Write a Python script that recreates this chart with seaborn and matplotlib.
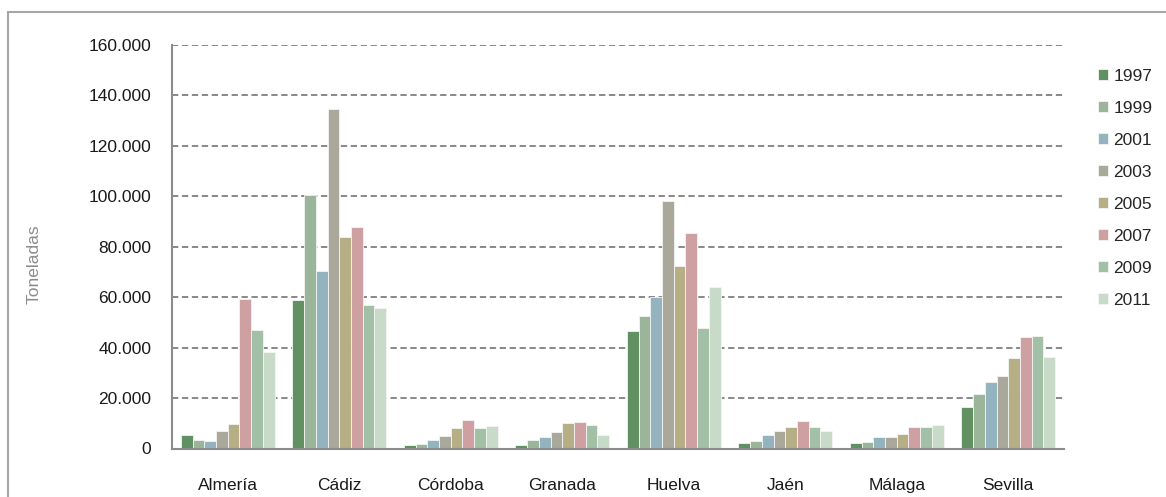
import matplotlib
matplotlib.use("Agg")
import matplotlib.pyplot as plt
import seaborn as sns
import pandas as pd
from matplotlib.patches import Rectangle
from matplotlib.ticker import FuncFormatter

provincias = ["Almería", "Cádiz", "Córdoba", "Granada", "Huelva", "Jaén", "Málaga", "Sevilla"]
anios = ["1997", "1999", "2001", "2003", "2005", "2007", "2009", "2011"]

v1997 = [5200, 58700, 1200, 1500, 46500, 2100, 2100, 16300]
v1999 = [3200, 100500, 1700, 3500, 52700, 3100, 2500, 21500]
v2001 = [2800, 70400, 3200, 4600, 59900, 5300, 4600, 26200]
v2003 = [6900, 134800, 4900, 6400, 98300, 6800, 4600, 28700]
v2005 = [9600, 83800, 8000, 10200, 72200, 8500, 5700, 35700]
v2007 = [59100, 87800, 11300, 10500, 85400, 10900, 8600, 44300]
v2009 = [47100, 57100, 8200, 9200, 47800, 8400, 8600, 44800]
v2011 = [38200, 55900, 8800, 5400, 64100, 6900, 9300, 36400]

colores = ["#619063", "#9bb59b", "#93b4bf", "#a9a89a", "#b6ae84", "#cfa0a1", "#a2c0a6", "#c8dbc9"]

series = [v1997, v1999, v2001, v2003, v2005, v2007, v2009, v2011]
rows = []
for anio, vals in zip(anios, series):
    for p, v in zip(provincias, vals):
        rows.append({"provincia": p, "anio": anio, "toneladas": v})
df = pd.DataFrame(rows)

sns.set_theme(style="white")
plt.rcParams["font.family"] = ["Liberation Sans", "DejaVu Sans"]
FS = 12.5

fig = plt.figure(figsize=(11.66, 4.97), dpi=100)
ax = fig.add_axes([172 / 1166, 1 - 448.5 / 497, (1064 - 172) / 1166, (448.5 - 45) / 497])

sns.barplot(data=df, x="provincia", y="toneladas", hue="anio", order=provincias,
            hue_order=anios, palette=colores, width=0.84, gap=0, ax=ax,
            edgecolor="#f4f4f4", linewidth=0.6, saturation=1, errorbar=None)

ax.set_ylim(0, 160000)
ax.set_xlim(-0.5, len(provincias) - 0.5)
ax.set_yticks(range(0, 160001, 20000))
ax.yaxis.set_major_formatter(FuncFormatter(lambda v, p: f"{int(v):,}".replace(",", ".")))
ax.grid(axis="y", color="#7f7f7f", linestyle=(0, (3.5, 2)), linewidth=1.3)
ax.set_axisbelow(True)

for s in ["top", "right"]:
    ax.spines[s].set_visible(False)
for s in ["left", "bottom"]:
    ax.spines[s].set_color("#8c8c8c")
    ax.spines[s].set_linewidth(1.5)

ax.set_xticks([i + 0.5 for i in range(-1, len(provincias))], minor=False)
ax.set_xticklabels([])
ax.tick_params(axis="x", which="major", direction="out", length=6, width=1.5, color="#8c8c8c")
ax.set_xticks(range(len(provincias)), minor=True)
ax.set_xticklabels(provincias, minor=True)
ax.tick_params(axis="x", which="minor", length=0, pad=21, labelsize=FS, labelcolor="#1a1a1a")
ax.tick_params(axis="y", direction="inout", length=12, width=1.5, color="#8c8c8c",
               labelsize=FS, labelcolor="#1a1a1a", pad=9)
ax.set_xlabel("")
ax.set_ylabel("")
fig.text(34 / 1166, 1 - 264 / 497, "Toneladas", rotation=90, va="center", ha="center",
         fontsize=FS, color="#8c8c8c")

handles, labels = ax.get_legend_handles_labels()
if ax.legend_:
    ax.legend_.remove()
fig.legend(handles, labels, loc="upper left", bbox_to_anchor=(1089 / 1166, 1 - 60 / 497),
           frameon=False, fontsize=FS, handlelength=0.6, handleheight=0.6,
           handletextpad=0.3, labelspacing=0.98, borderpad=0)

fig.patches.append(Rectangle((8 / 1166, -0.1), 1.2, 1 - 12 / 497 + 0.1, transform=fig.transFigure,
                             fill=False, edgecolor="#a6a6a6", linewidth=1.5))

fig.savefig("out.png", dpi=100)
